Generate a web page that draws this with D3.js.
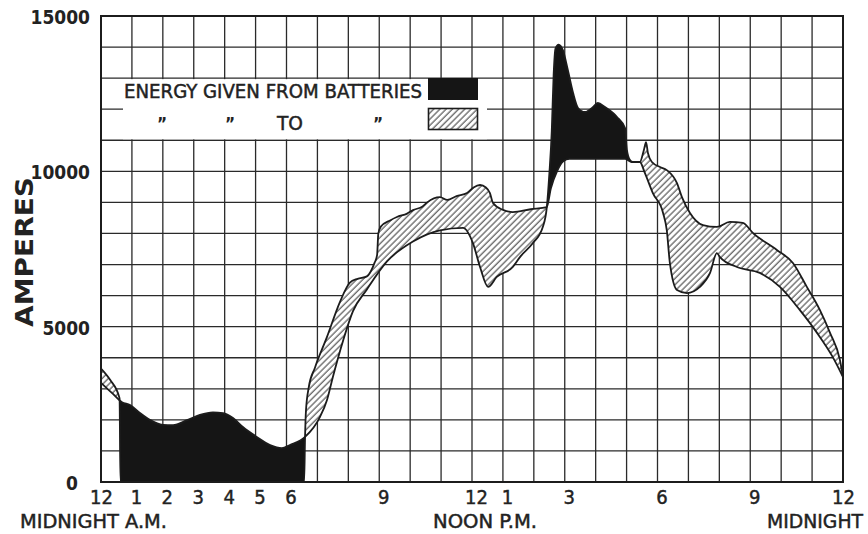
<!DOCTYPE html>
<html>
<head>
<meta charset="utf-8">
<script src="https://cdn.jsdelivr.net/npm/d3@7"></script>
<style>
  html, body { margin: 0; padding: 0; background: #fff; }
  svg { display: block; }
  text { font-family: "DejaVu Sans Condensed", "Liberation Sans Narrow", "DejaVu Sans", sans-serif; fill: #222; }
  .inked { stroke: #222; stroke-width: 0.45px; }
</style>
</head>
<body>
<svg id="chart" width="868" height="534"></svg>
<script>
// Station load over the day: [hour, amperes]
const load = [
  [0, 3190], [0.35, 2870], [0.68, 2570], [0.94, 2480], [1.26, 2220], [1.58, 2000],
  [2.0, 1840], [2.33, 1830], [2.78, 1990], [3.2, 2160], [3.62, 2240], [3.95, 2220],
  [4.27, 2060], [4.59, 1770], [5.04, 1450], [5.47, 1190], [5.85, 1090], [6.11, 1190],
  [6.6, 1450], [7.08, 2090], [7.31, 2640], [7.5, 3380], [7.83, 4550], [8.15, 5500],
  [8.6, 6200], [9.25, 7100], [10.09, 7740], [10.96, 8100], [11.71, 8180], [12.03, 7690],
  [12.26, 6920], [12.52, 6280], [12.8, 6600], [13.32, 6920], [13.55, 7240], [13.97, 7690],
  [14.29, 8210], [14.42, 8850], [14.5, 9900], [14.58, 11300], [14.64, 13100], [14.7, 13950],
  [14.8, 14080], [14.94, 13900], [15.1, 13260], [15.27, 12520], [15.43, 12040], [15.65, 11910],
  [15.88, 12040], [16.07, 12200], [16.3, 12070], [16.69, 11750], [16.95, 11390], [17.01, 10690],
  [17.11, 10360], [17.2, 10300], [17.43, 10300], [17.59, 9950], [17.85, 9300], [18.18, 8660],
  [18.3, 8110], [18.4, 7050], [18.63, 6180], [18.95, 6080], [19.37, 6280], [19.7, 6730],
  [19.92, 7370], [20.02, 7240], [20.57, 6920], [21.31, 6730], [21.96, 6280], [22.6, 5540],
  [23.16, 4800], [23.67, 4020], [24, 3380]
];

// Generator output over the day: [hour, amperes]
const generation = [
  [0, 3650], [0.3, 3280], [0.6, 2700], [0.63, 0], [6.57, 0], [6.6, 1450], [6.63, 2300],
  [6.72, 3050], [6.92, 3680], [7.31, 4670], [7.73, 5800], [8.05, 6420], [8.3, 6540],
  [8.6, 6620], [8.85, 7060], [8.93, 7300], [8.97, 8000], [9.05, 8220], [9.35, 8420],
  [9.57, 8530], [9.9, 8640], [10.09, 8750], [10.4, 8870], [10.55, 9000], [10.96, 9170],
  [11.2, 9080], [11.5, 9200], [11.84, 9300], [12.05, 9480], [12.26, 9560], [12.45, 9480],
  [12.58, 9300], [12.68, 8980], [13.0, 8760], [13.32, 8690], [13.9, 8780], [14.42, 8850],
  [14.55, 9450], [14.75, 10000], [14.95, 10320], [15.15, 10400], [16.0, 10400], [16.95, 10400],
  [17.17, 10300], [17.43, 10300], [17.56, 10690], [17.63, 10940], [17.69, 10590], [17.82, 10300],
  [18.08, 10140], [18.3, 10040], [18.63, 9620], [18.79, 9170], [19.05, 8660], [19.47, 8270],
  [19.92, 8210], [20.34, 8370], [20.76, 8340], [21.09, 8010], [21.86, 7470], [22.38, 7050],
  [22.83, 6280], [23.25, 5540], [23.58, 4800], [23.9, 3930], [24, 3380]
];

const hourTicks  = [0, 1, 2, 3, 4, 5, 6, 9, 12, 13, 15, 18, 21, 24];
const hourLabels = ["12", "1", "2", "3", "4", "5", "6", "9", "12", "1", "3", "6", "9", "12"];
const ampTicks   = [0, 5000, 10000, 15000];
const periodLabels = ["MIDNIGHT A.M.", "NOON P.M.", "MIDNIGHT"];
const legendLabels = ["ENERGY GIVEN FROM BATTERIES", "TO"];

const svg = d3.select("#chart");
const ink = "#1c1c1c";

const x = d3.scaleLinear().domain([0, 24]).range([101, 843]);
const y = d3.scaleLinear().domain([0, 15000]).range([482, 16]);

// hatch pattern for charging
const defs = svg.append("defs");
const pat = defs.append("pattern")
  .attr("id", "hatch")
  .attr("patternUnits", "userSpaceOnUse")
  .attr("width", 4.4).attr("height", 10)
  .attr("patternTransform", "rotate(45)");
pat.append("line")
  .attr("x1", 1).attr("y1", 0).attr("x2", 1).attr("y2", 10)
  .attr("stroke", "#333").attr("stroke-width", 1);

const curve = d3.curveMonotoneX;

// clip regions: above each curve
defs.append("clipPath").attr("id", "above-gen")
  .append("path")
  .attr("d", d3.area().curve(curve).x(d => x(d[0])).y0(0).y1(d => y(d[1]))(generation));
defs.append("clipPath").attr("id", "above-load")
  .append("path")
  .attr("d", d3.area().curve(curve).x(d => x(d[0])).y0(0).y1(d => y(d[1]))(load));

// grid
const grid = svg.append("g").attr("stroke", "#2a2a2a").attr("stroke-width", 1.3);
grid.selectAll("line.v").data(d3.range(1, 24)).join("line")
  .attr("x1", d => x(d)).attr("x2", d => x(d))
  .attr("y1", y(15000)).attr("y2", y(0));
grid.selectAll("line.h").data(d3.range(1000, 15000, 1000)).join("line")
  .attr("y1", d => y(d)).attr("y2", d => y(d))
  .attr("x1", x(0)).attr("x2", x(24));

// energy from batteries: load above generation
const under = d3.area().curve(curve).x(d => x(d[0])).y0(y(0)).y1(d => y(d[1]));

svg.append("path")
  .attr("d", under(load))
  .attr("clip-path", "url(#above-gen)")
  .attr("fill", "#151515");

// energy to batteries: generation above load
svg.append("path")
  .attr("d", under(generation))
  .attr("clip-path", "url(#above-load)")
  .attr("fill", "#fff");
svg.append("path")
  .attr("d", under(generation))
  .attr("clip-path", "url(#above-load)")
  .attr("fill", "url(#hatch)");

const line = d3.line().curve(curve).x(d => x(d[0])).y(d => y(d[1]));
svg.append("path").attr("d", line(load))
  .attr("fill", "none").attr("stroke", ink).attr("stroke-width", 1.8);
svg.append("path").attr("d", line(generation))
  .attr("fill", "none").attr("stroke", ink).attr("stroke-width", 1.8);

// frame
svg.append("rect")
  .attr("x", x(0)).attr("y", y(15000))
  .attr("width", x(24) - x(0)).attr("height", y(0) - y(15000))
  .attr("fill", "none").attr("stroke", ink).attr("stroke-width", 2);

// legend panel
const lg = svg.append("g");
lg.append("rect")
  .attr("x", 123).attr("y", y(13000) + 1)
  .attr("width", 364).attr("height", y(11000) - y(13000) - 2)
  .attr("fill", "#fff");
lg.append("text")
  .attr("class", "inked")
  .attr("x", 124).attr("y", 98)
  .attr("font-size", 19.5)
  .attr("textLength", 298).attr("lengthAdjust", "spacingAndGlyphs")
  .text(legendLabels[0]);
lg.selectAll("text.ditto").data([162, 230, 378]).join("text")
  .attr("class", "ditto")
  .attr("x", d => d).attr("y", 130)
  .attr("text-anchor", "middle")
  .attr("font-size", 17).attr("font-weight", "bold")
  .text("\u201D");
lg.append("text")
  .attr("class", "inked")
  .attr("x", 277).attr("y", 130)
  .attr("font-size", 19.5)
  .attr("textLength", 26).attr("lengthAdjust", "spacingAndGlyphs")
  .text(legendLabels[1]);
lg.append("rect")
  .attr("x", 428).attr("y", 78).attr("width", 50).attr("height", 22)
  .attr("fill", "#151515");
lg.append("rect")
  .attr("x", 428.5).attr("y", 108.5).attr("width", 49).attr("height", 21)
  .attr("fill", "url(#hatch)").attr("stroke", ink).attr("stroke-width", 1.6);

// y axis labels
const yAxis = svg.append("g")
  .attr("transform", `translate(${x(0) - 11},0)`)
  .call(d3.axisLeft(y).tickValues(ampTicks).tickSize(0).tickPadding(0).tickFormat(d3.format("d")));
yAxis.select(".domain").remove();
yAxis.selectAll("text")
  .attr("font-size", 19).attr("font-weight", "bold")
  .style("font-family", "\"DejaVu Sans Condensed\", \"Liberation Sans Narrow\", sans-serif")
  .attr("fill", "#222")
  .attr("dy", "0.4em")
  .attr("dx", d => d === 0 ? -12 : 0);

// x axis labels
const xAxis = svg.append("g")
  .attr("transform", `translate(0,${y(0) + 5})`)
  .call(d3.axisBottom(x).tickValues(hourTicks).tickSize(0).tickPadding(0)
    .tickFormat((d, i) => hourLabels[i]));
xAxis.select(".domain").remove();
xAxis.selectAll("text")
  .attr("class", "inked")
  .attr("font-size", 20)
  .style("font-family", "\"DejaVu Sans Condensed\", \"Liberation Sans Narrow\", sans-serif")
  .attr("fill", "#222")
  .attr("dy", "0.85em")
  .attr("dx", (d, i) => (i === 0 || i === hourTicks.length - 1) ? 0 : 4);

// period captions under the hours
const periods = [
  { t: periodLabels[0], x: 20, w: 147 },
  { t: periodLabels[1], x: 433, w: 104 },
  { t: periodLabels[2], x: 767, w: 96 }
];
svg.selectAll("text.period").data(periods).join("text")
  .attr("class", "period inked")
  .attr("x", d => d.x).attr("y", 528)
  .attr("font-size", 20)
  .attr("textLength", d => d.w).attr("lengthAdjust", "spacingAndGlyphs")
  .text(d => d.t);

// y title
svg.append("text")
  .attr("transform", "translate(33,252) rotate(-90)")
  .attr("text-anchor", "middle")
  .attr("font-size", 25).attr("font-weight", "bold")
  .attr("textLength", 150).attr("lengthAdjust", "spacingAndGlyphs")
  .text("AMPERES");
</script>
</body>
</html>
